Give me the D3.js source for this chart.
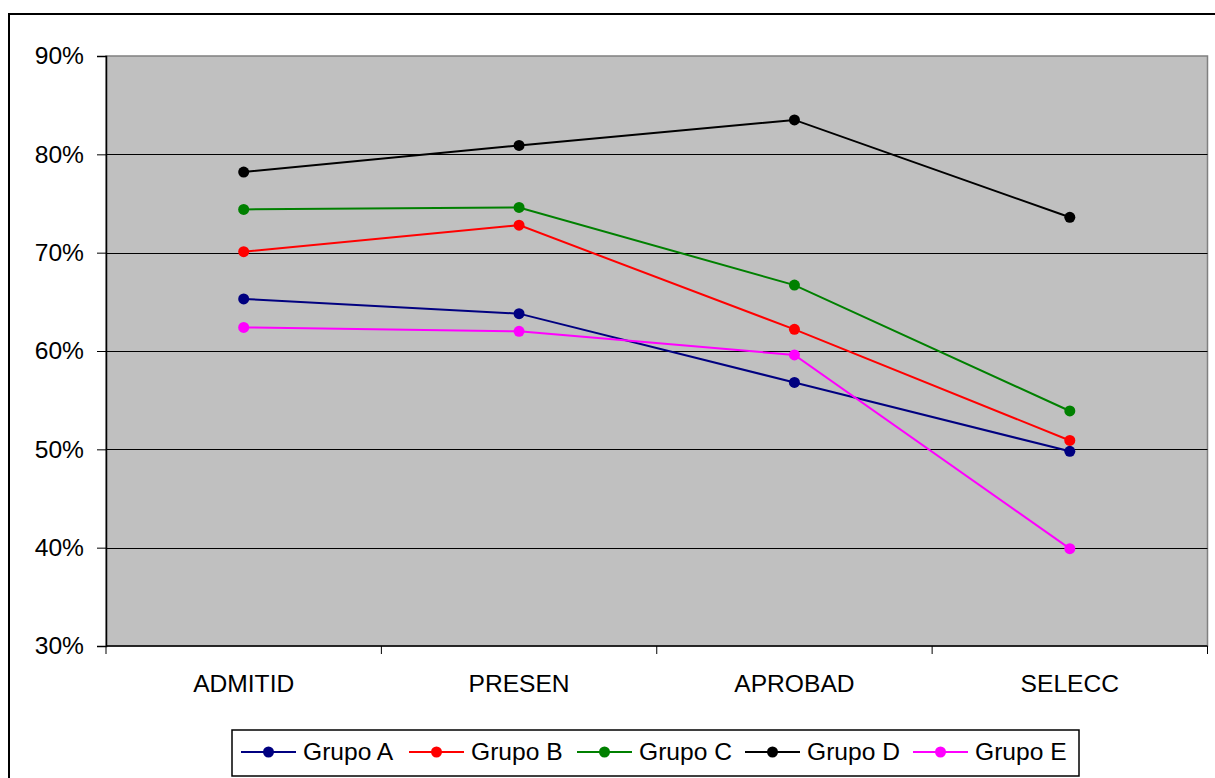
<!DOCTYPE html>
<html><head><meta charset="utf-8">
<script src="https://cdn.jsdelivr.net/npm/d3@7"></script>
<style>body{margin:0;background:#fff;}svg{display:block;font-family:"Liberation Sans",Arial,sans-serif;}</style>
</head><body>
<svg id="c" width="1215" height="778"></svg>
<script>
const categories = ["ADMITID", "PRESEN", "APROBAD", "SELECC"];
const grupoA = [65.3, 63.8, 56.8, 49.8];
const grupoB = [70.1, 72.8, 62.2, 50.9];
const grupoC = [74.4, 74.6, 66.7, 53.9];
const grupoD = [78.2, 80.9, 83.5, 73.6];
const grupoE = [62.4, 62.0, 59.6, 39.9];
const seriesNames = ["Grupo A", "Grupo B", "Grupo C", "Grupo D", "Grupo E"];
const seriesColors = ["#000080", "#ff0000", "#008000", "#000000", "#ff00ff"];
const yTicks = [30, 40, 50, 60, 70, 80, 90];

const seriesData = [grupoA, grupoB, grupoC, grupoD, grupoE];
const svg = d3.select("#c");
const L = 106, R = 1207.5, T = 56, B = 646;
const FS = 24.6;

// outer frame
svg.append("rect").attr("x", 9).attr("y", 14).attr("width", 1220).attr("height", 780)
  .attr("fill", "#fff").attr("stroke", "#000").attr("stroke-width", 2);

const x = d3.scaleBand().domain(categories).range([L, R]);
const y = d3.scaleLinear().domain([30, 90]).range([B, T]);

// plot bg
svg.append("rect").attr("x", L).attr("y", T).attr("width", R - L).attr("height", B - T)
  .attr("fill", "#c0c0c0").attr("stroke", "#808080").attr("stroke-width", 1.5);

// gridlines
svg.append("g").selectAll("line").data(yTicks.filter(d => d > 30 && d < 90)).join("line")
  .attr("x1", L).attr("x2", R).attr("y1", d => Math.round(y(d)) + 0.5).attr("y2", d => Math.round(y(d)) + 0.5)
  .attr("stroke", "#000").attr("stroke-width", 1);

// y axis
const yAxis = d3.axisLeft(y).tickValues(yTicks).tickFormat(d => d + "%").tickSize(9).tickPadding(13);
const gy = svg.append("g").attr("transform", `translate(${L},0)`).call(yAxis);
gy.select(".domain").attr("stroke", "#000").attr("stroke-width", 1.5);
gy.selectAll(".tick line").attr("stroke", "#000");
gy.selectAll(".tick text").attr("font-size", FS).attr("fill", "#000").attr("font-family", "Liberation Sans, Arial, sans-serif");

// x axis
const xTickPos = categories.map(c => x(c)).concat([R]);
const gx = svg.append("g");
gx.append("line").attr("x1", L).attr("x2", R).attr("y1", B).attr("y2", B).attr("stroke", "#000").attr("stroke-width", 1.5);
gx.selectAll("line.t").data(xTickPos).join("line").attr("class", "t")
  .attr("x1", d => d).attr("x2", d => d).attr("y1", B).attr("y2", B + 8).attr("stroke", "#000");
gx.selectAll("text").data(categories).join("text")
  .attr("x", d => x(d) + x.bandwidth() / 2).attr("y", 692)
  .attr("text-anchor", "middle").attr("font-size", FS).attr("fill", "#000").text(d => d);

// lines
const line = d3.line().x((d, i) => x(categories[i]) + x.bandwidth() / 2).y(d => y(d));
seriesData.forEach((s, k) => {
  svg.append("path").datum(s).attr("d", line).attr("fill", "none")
    .attr("stroke", seriesColors[k]).attr("stroke-width", 2);
  svg.append("g").selectAll("circle").data(s).join("circle")
    .attr("cx", (d, i) => x(categories[i]) + x.bandwidth() / 2).attr("cy", d => y(d))
    .attr("r", 5.5).attr("fill", seriesColors[k]);
});

// legend
const lg = svg.append("g");
lg.append("rect").attr("x", 232).attr("y", 730).attr("width", 847).attr("height", 46)
  .attr("fill", "#fff").attr("stroke", "#000").attr("stroke-width", 1.5);
const legX = d3.scalePoint().domain(seriesNames).range([241, 913]);
seriesNames.forEach((n, k) => {
  const x0 = legX(n);
  lg.append("line").attr("x1", x0).attr("x2", x0 + 55).attr("y1", 752).attr("y2", 752)
    .attr("stroke", seriesColors[k]).attr("stroke-width", 2);
  lg.append("circle").attr("cx", x0 + 27.5).attr("cy", 752).attr("r", 5.5).attr("fill", seriesColors[k]);
  lg.append("text").attr("x", x0 + 62).attr("y", 760).attr("font-size", FS).attr("fill", "#000").text(n);
});
</script>
</body></html>
